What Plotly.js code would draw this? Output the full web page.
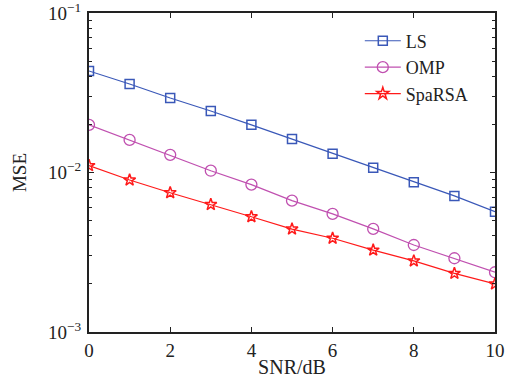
<!DOCTYPE html>
<html><head><meta charset="utf-8">
<script src="https://cdn.plot.ly/plotly-3.0.1.min.js"></script>
<style>body{margin:0;background:#fff}#c{width:509px;height:381px}</style>
</head><body><div id="c"></div>
<script>
const snr = [0,1,2,3,4,5,6,7,8,9,10];
const mseLS = [0.0433,0.0359,0.0293,0.0243,0.0199,0.0162,0.0131,0.0107,0.0087,0.00713,0.00568];
const mseOMP = [0.0199,0.0160,0.0129,0.01026,0.0084,0.00666,0.0055,0.00443,0.00351,0.0029,0.00237];
const mseSpaRSA = [0.01104,0.00897,0.00747,0.0063,0.00528,0.00442,0.00387,0.00326,0.00279,0.00233,0.0020];
const yTickVals = [0.001,0.01,0.1];
const yTickText = ['10<sup>−3</sup>','10<sup>−2</sup>','10<sup>−1</sup>'];
const xTickVals = [0,2,4,6,8,10];
const yMinor = [];
[0.001,0.01].forEach(d=>{for(let k=2;k<=9;k++) yMinor.push(d*k);});

const fam = '"Liberation Serif", "DejaVu Serif", serif';
const fnt = s => ({family:fam, size:s, color:'#222'});
const traces = [
 {x:snr,y:mseLS,name:'LS',mode:'lines+markers',line:{color:'#3a58b8',width:1.2},
  marker:{symbol:'square-open',size:9,color:'#3a58b8',line:{width:1.5}}},
 {x:snr,y:mseOMP,name:'OMP',mode:'lines+markers',line:{color:'#c050b0',width:1.2},
  marker:{symbol:'circle-open',size:11,color:'#c050b0',line:{width:1.3}}},
 {x:snr,y:mseSpaRSA,name:'SpaRSA',mode:'lines+markers',line:{color:'#ff1a1a',width:1.2},
  marker:{symbol:'star-open',size:9,color:'#ff1a1a',line:{width:1.5}}}
];
const layout = {
 width:509,height:381,margin:{l:89,r:14,t:13,b:49},
 paper_bgcolor:'#fff',plot_bgcolor:'#fff',font:fnt(19),showlegend:true,
 xaxis:{range:[0,10],tickvals:xTickVals,ticks:'inside',ticklen:5,tickwidth:1,tickcolor:'#222',
   showline:true,linecolor:'#222',linewidth:2,mirror:'allticks',showgrid:false,zeroline:false,
   tickfont:fnt(19),ticklabeloverflow:'allow',
   title:{text:'SNR/dB',font:fnt(20),standoff:0},ticklabelstandoff:0},
 yaxis:{type:'log',range:[-3,-1],tickvals:yTickVals,ticktext:yTickText,ticks:'inside',ticklen:5,
   tickwidth:1,tickcolor:'#222',showline:true,linecolor:'#222',linewidth:2,mirror:'allticks',
   showgrid:false,zeroline:false,ticklabelstandoff:2,ticklabeloverflow:'allow',
   tickfont:fnt(19),
   minor:{tickvals:yMinor,ticks:'inside',ticklen:3,tickcolor:'#222',showgrid:false},
   title:{text:'MSE',font:fnt(19),standoff:16}},
 legend:{x:0.667,y:0.97,xanchor:'left',yanchor:'top',bgcolor:'rgba(255,255,255,0)',
   borderwidth:0,font:fnt(18),tracegroupgap:0,itemwidth:36}
};
Plotly.newPlot('c',traces,layout,{displayModeBar:false,staticPlot:true});
</script></body></html>
